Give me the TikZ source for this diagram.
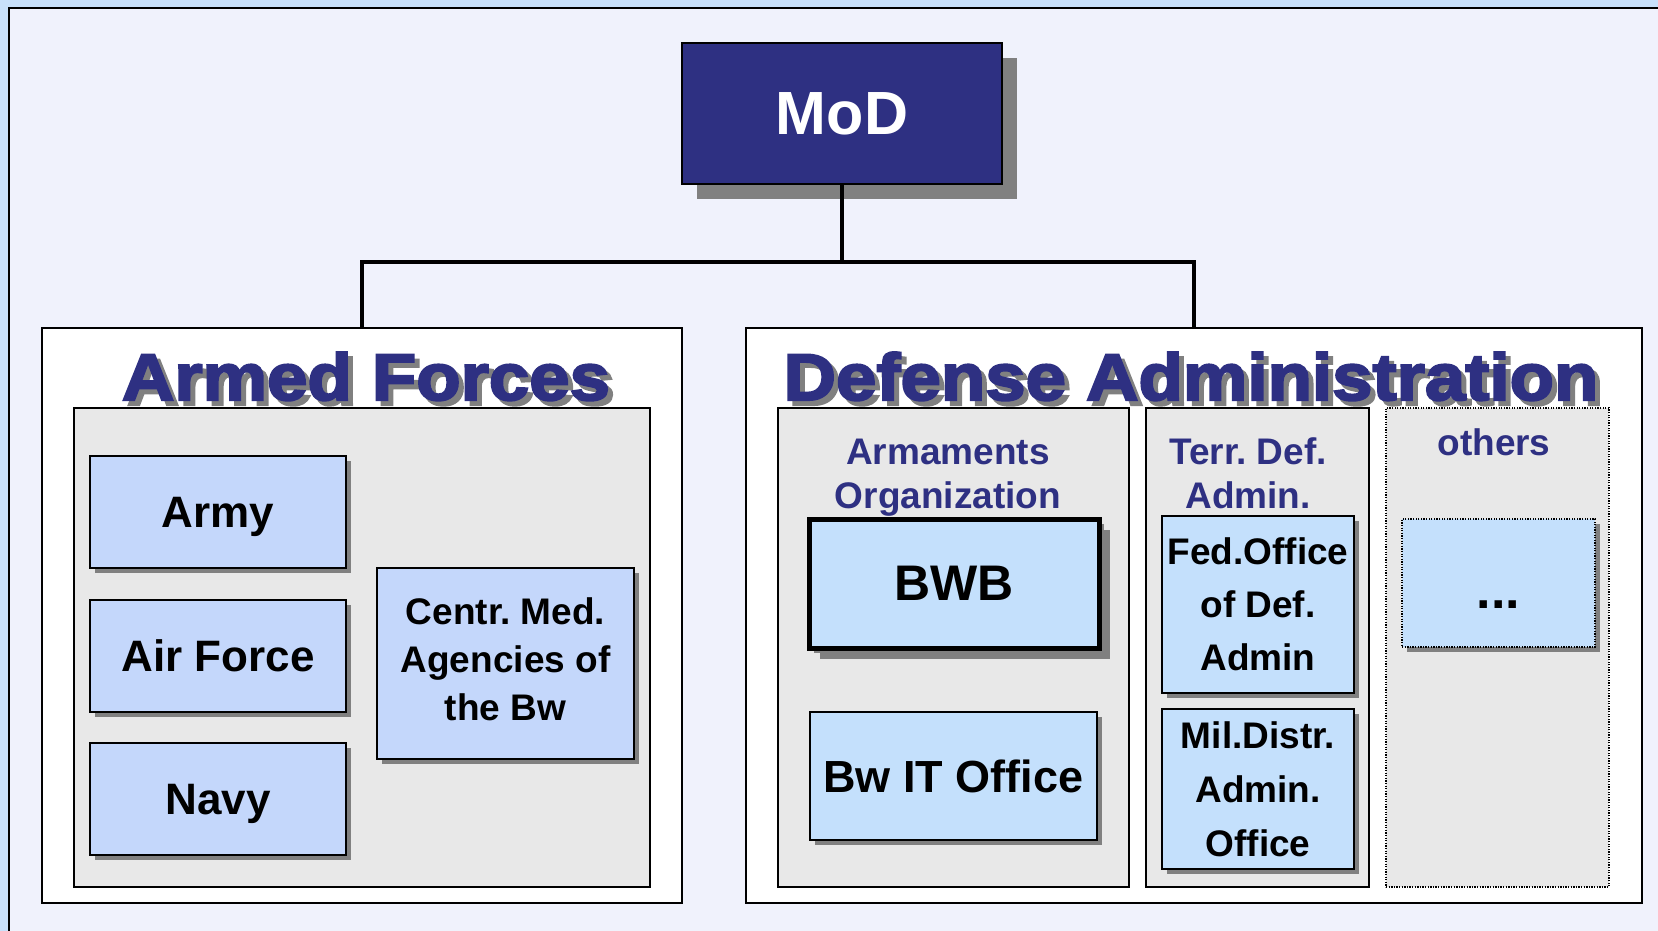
\documentclass[tikz,border=0pt]{standalone}
\usepackage{fontspec}
\setmainfont{Liberation Sans}
\newfontfamily\boldf{Liberation Sans Bold}
\newfontfamily\heavyf[FakeBold=3.2,FakeStretch=1.1]{Liberation Sans Bold}
\usetikzlibrary{shadows}
\definecolor{navy}{RGB}{46,48,130}
\definecolor{outerbg}{RGB}{200,224,250}
\definecolor{innerbg}{RGB}{240,242,252}
\definecolor{panelgray}{RGB}{232,232,232}
\definecolor{afblue}{RGB}{196,215,251}
\definecolor{dablue}{RGB}{196,224,252}
\definecolor{shadowgray}{RGB}{128,128,128}
\newcommand{\shadowtext}[1]{\rlap{\kern5pt\raisebox{-5pt}[0pt][0pt]{\color{shadowgray}#1}}#1}
\frenchspacing
\begin{document}
\begin{tikzpicture}[x=1pt,y=-1pt,
  panel/.style={draw=black, line width=1.6pt, fill=white, inner sep=0pt},
  column/.style={draw=black, line width=1.6pt, fill=panelgray, inner sep=0pt},
  dotcolumn/.style={draw=black, line width=1.2pt, dash pattern=on 1.3pt off 1.3pt, fill=panelgray, inner sep=0pt},
  orgbox/.style={draw=black, line width=1.8pt, inner sep=0pt, align=center, text=black,
     drop shadow={shadow xshift=5pt, shadow yshift=-5pt, fill=shadowgray, opacity=1}},
  afbox/.style={orgbox, fill=afblue},
  dabox/.style={orgbox, fill=dablue},
  lbl/.style={text=navy, align=center, font=\boldf\fontsize{37}{44}\selectfont, inner sep=0pt, anchor=base},
  ttl/.style={font=\heavyf\fontsize{66}{70}\selectfont, anchor=base, inner sep=0pt, text=navy},
  conn/.style={draw=black, line width=3.5pt}
]
\useasboundingbox (0,0) rectangle (1658,931);
\clip (0,0) rectangle (1658,931);
\fill[outerbg] (0,0) rectangle (1658,931);
\draw[line width=1.8pt, fill=innerbg] (9,8) rectangle (1690,970);

% MoD
\node[draw=black, line width=2pt, fill=navy, minimum width=320pt, minimum height=141pt,
  text=white, font=\boldf\fontsize{61}{61}\selectfont, text depth=0pt,
  drop shadow={shadow xshift=15pt, shadow yshift=-15pt, fill=shadowgray, opacity=1}] (mod) at (842,113.5) {MoD};

% panels
\node[panel, minimum width=640pt, minimum height=575pt] (af) at (362,615.5) {};
\node[panel, minimum width=896pt, minimum height=575pt] (da) at (1194,615.5) {};

% connectors
\coordinate (bus) at (842,262);
\draw[conn] (mod.south) -- (bus);
\draw[conn] (af.north) |- (bus) -| (da.north);

% titles
\node[ttl] (aft) at (366,400) {\shadowtext{Armed Forces}};
\node[ttl] (dat) at (1191,400) {\shadowtext{Defense Administration}};

% Armed forces content
\node[column, minimum width=576pt, minimum height=479pt] (afin) at (362,647.5) {};
\node[afbox, minimum width=256pt, minimum height=112pt, font=\boldf\fontsize{44}{48}\selectfont, text depth=0pt] (army) at (218,512) {Army};
\node[afbox, minimum width=256pt, minimum height=112pt, font=\boldf\fontsize{44}{48}\selectfont, text depth=0pt] (airforce) at (218,656) {Air Force};
\node[afbox, minimum width=256pt, minimum height=112pt, font=\boldf\fontsize{44}{48}\selectfont, text depth=0pt] (navy) at (218,799) {Navy};
\node[afbox, minimum width=257pt, minimum height=191pt, font=\boldf\fontsize{37}{48}\selectfont, text depth=8pt] (med) at (505.5,663.5) {Centr. Med.\\Agencies of\\the Bw};

% Defense administration content
\node[column, minimum width=351pt, minimum height=479pt] (arm) at (953.5,647.5) {};
\node[column, minimum width=223pt, minimum height=479pt] (terr) at (1257.5,647.5) {};
\node[dotcolumn, minimum width=223pt, minimum height=479pt] (others) at (1497.5,647.5) {};

\node[lbl] (armlbl) at (948,508) {Armaments\\Organization};
\node[lbl] (terrlbl) at (1248,508) {Terr. Def.\\Admin.};
\node[lbl] (otherslbl) at (1494,455) {others};

\node[dabox, line width=5pt, minimum width=290pt, minimum height=129pt, font=\boldf\fontsize{50}{50}\selectfont, text depth=0pt,
  drop shadow={shadow xshift=11pt, shadow yshift=-11pt, fill=shadowgray, opacity=1}] (bwb) at (954,583.5) {BWB};
\node[dabox, minimum width=287pt, minimum height=128pt, font=\boldf\fontsize{45}{48}\selectfont, text depth=0pt] (bwit) at (953.5,776) {Bw IT Office};
\node[dabox, minimum width=192pt, minimum height=177pt, font=\boldf\fontsize{37}{53}\selectfont] (fed) at (1258,604.5) {Fed.Office\\of Def.\\Admin};
\node[dabox, minimum width=192pt, minimum height=160pt, font=\boldf\fontsize{37}{54}\selectfont] (mil) at (1258,789) {Mil.Distr.\\Admin.\\Office};
\node[dabox, line width=1.3pt, dash pattern=on 1.3pt off 1.3pt, minimum width=193pt, minimum height=128pt,
  font=\boldf\fontsize{52}{52}\selectfont, text height=50pt, text depth=0pt] (dots) at (1498.5,583) {...};
\end{tikzpicture}
\end{document}
